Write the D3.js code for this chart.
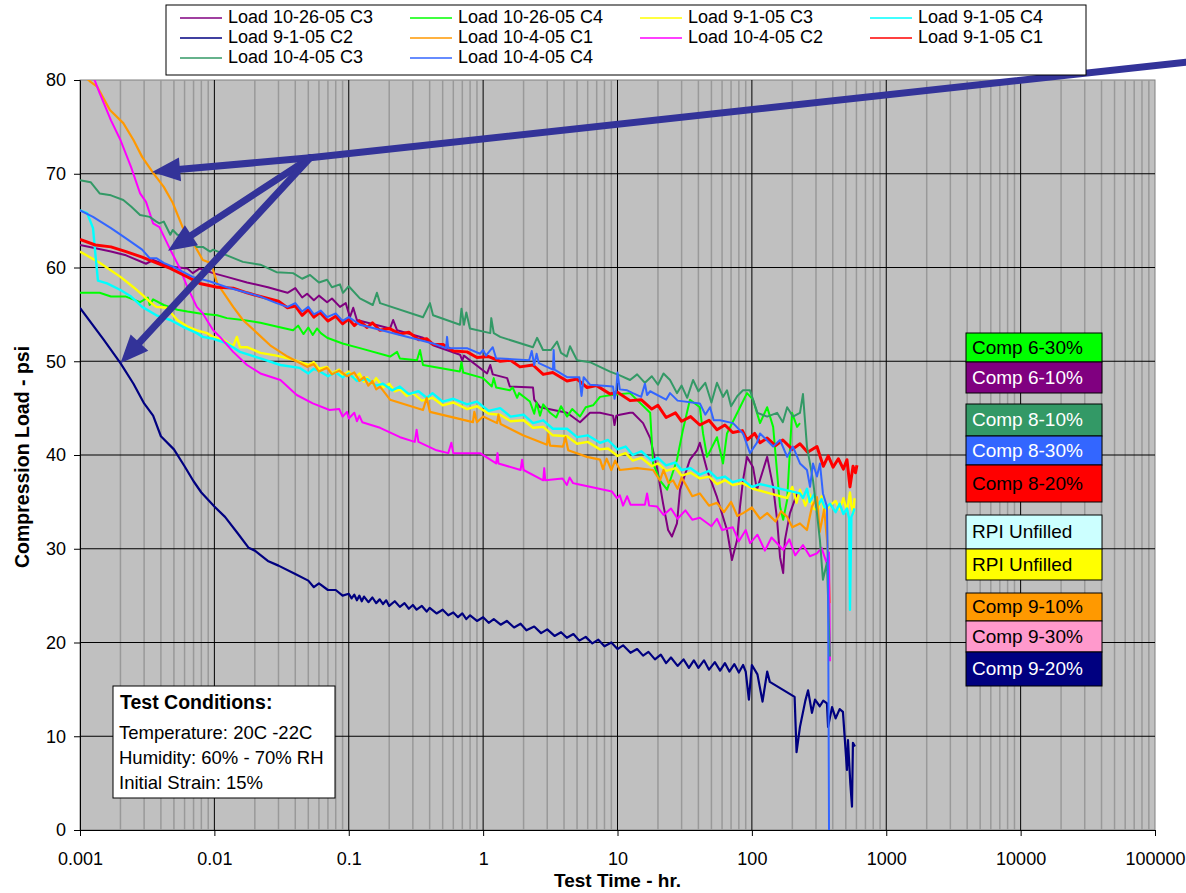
<!DOCTYPE html>
<html lang="en">
<head>
<meta charset="utf-8">
<title>Compression Load vs Test Time</title>
<script src="https://cdn.jsdelivr.net/npm/d3@7"></script>
<style>
  body { margin: 0; background: #fff; }
  svg { display: block; font-family: "Liberation Sans", Arial, sans-serif; }
</style>
</head>
<body>
<div id="chart"></div>
<script>
// each series: [test time (hr), compression load (psi)]
var load102605C3 = [[0.001,62.4],[0.0017,61.7],[0.0022,61.3],[0.0031,60.4],[0.0035,60.8],[0.0047,60.1],[0.0063,59.9],[0.0069,59.4],[0.0078,59.9],[0.0098,59.4],[0.0124,59],[0.0175,58.4],[0.025,57.9],[0.035,57.3],[0.04,57.8],[0.045,56.8],[0.049,57.2],[0.055,56.5],[0.06,57],[0.069,56.3],[0.075,56.7],[0.086,55.8],[0.095,56.2],[0.102,54.7],[0.108,55.7],[0.115,54.4],[0.203,53.5],[0.214,54.4],[0.229,53.3],[0.357,52.5],[0.424,51.7],[0.673,50.7],[0.7,50.1],[0.72,50.6],[1.07,48.7],[1.13,49.6],[1.18,48.6],[1.51,48.2],[1.58,47.3],[2.35,47.2],[2.4,45.9],[2.65,45.1],[4.21,44.5],[5.26,43.5],[6.24,44.5],[7.41,44.5],[9.26,44.2],[9.5,43.2],[9.8,44.2],[10.4,44.3],[12.4,44.5],[13,44.5],[15.5,43.4],[17.5,41.8],[19.7,38.6],[21.8,34.9],[23.8,32],[25.4,31.3],[27.7,32.7],[29.2,36.3],[34.6,39.5],[39.1,40.5],[41,41.3],[46.4,38.4],[55,35.5],[65.3,32],[71.1,28.8],[77.5,30.9],[81.6,34.5],[85.9,37.3],[92,39.8],[102,38.7],[109,36.3],[130,39.8],[144,36.6],[154,33.1],[162,29.1],[171,27.4],[176,30.9],[192,33.8],[217,35.9]];
var load102605C4 = [[0.001,57.3],[0.0014,57.3],[0.0017,56.9],[0.0022,56.9],[0.0028,56.3],[0.0032,56.8],[0.0033,56],[0.0035,56.6],[0.0042,56],[0.0053,55.5],[0.0063,55.3],[0.0078,55.1],[0.0105,54.9],[0.0124,54.6],[0.0163,54.4],[0.022,54.1],[0.029,53.7],[0.0385,53.3],[0.042,53.8],[0.046,52.9],[0.05,53.6],[0.054,52.8],[0.058,53.5],[0.062,53],[0.069,52.5],[0.09,51.9],[0.121,51.4],[0.203,50.5],[0.229,51],[0.24,50.3],[0.322,50.1],[0.339,51.2],[0.357,49.6],[0.67,48.9],[0.69,49.9],[0.71,48.8],[1,48.2],[1.16,47.3],[1.2,48.2],[1.25,47.2],[1.58,46.9],[1.66,47.2],[1.79,46.1],[1.85,46.6],[2.23,45.7],[2.4,44.4],[2.5,45.6],[2.65,44.2],[2.8,45.4],[3.15,44.5],[3.5,44],[3.8,45.2],[4.21,44.1],[4.6,44.9],[5.26,44.1],[5.8,45.1],[6.58,45.3],[7.41,46.2],[9,46.4],[12.4,46.6],[17.5,44.5],[18.4,39.1],[20.7,37.3],[23.4,36.3],[27.7,39.5],[30.7,42.7],[34.6,45.9],[41,45.1],[43.3,42.3],[46.4,39.8],[55,41.9],[61,39.1],[65.3,42.3],[81.6,45.1],[92,46.6],[102,45.9],[115,43.4],[130,45.1],[144,43],[162,34.5],[171,33.1],[183,35.2],[199,44.5],[217,43],[228,43.4]];
var load9105C3 = [[0.001,61.7],[0.0014,60.5],[0.002,59],[0.0025,57.9],[0.0029,57.1],[0.0034,56.2],[0.0037,55.8],[0.0044,55.7],[0.0053,54.4],[0.0063,53.7],[0.0074,53.3],[0.0088,53],[0.0098,52.6],[0.0116,52.3],[0.0138,51.6],[0.0147,52.6],[0.0155,51.5],[0.0175,51.5],[0.022,50.9],[0.029,50.6],[0.038,50.2],[0.05,49.6],[0.055,49.9],[0.06,49.2],[0.069,49.4],[0.075,48.7],[0.085,49.1],[0.09,48.5],[0.1,48.9],[0.11,48.1],[0.12,48.7],[0.13,47.8],[0.137,48.3],[0.15,47.6],[0.16,48.2],[0.18,47.2],[0.2,47.6],[0.22,46.8],[0.24,47],[0.27,46.3],[0.3,46.6],[0.35,45.8],[0.42,46.1],[0.5,45.3],[0.6,45.6],[0.76,44.9],[0.9,45.2],[1.1,44.4],[1.34,44.3],[1.6,43.6],[2,43.7],[2.35,42.9],[2.8,43],[3.3,42.1],[4.21,42],[5,41.2],[6,41.4],[7.4,40.6],[8.5,40.7],[10,39.9],[11.5,40.2],[13,39.4],[15,39.7],[18,38.8],[20,39.1],[23,38.3],[27,38.6],[30,37.8],[35,38.1],[41,37.5],[48,37.7],[55,36.9],[63,37.3],[72,36.8],[85,37],[102,36.4],[183,35.4],[200,36.6],[215,34.9],[228,36.3],[250,34.6],[270,35.8],[285,34.3],[310,34.1],[330,35.6],[345,33.9],[381,34.6],[420,35.1],[450,34.2],[480,35.4],[510,34],[537,36],[550,34.6],[570,33.8],[580,35.4]];
var load9105C4 = [[0.001,66.1],[0.00113,65.8],[0.00125,64.2],[0.0013,61.5],[0.00136,58.6],[0.00159,58.3],[0.002,57.6],[0.0024,56.9],[0.0029,55.8],[0.0037,54.9],[0.0047,54.4],[0.0058,53.7],[0.0074,53],[0.0082,52.6],[0.0098,52.4],[0.0124,51.9],[0.0155,51],[0.022,50.3],[0.031,49.6],[0.043,49.3],[0.05,48.7],[0.055,49.2],[0.061,48.9],[0.07,48.4],[0.08,48.8],[0.09,48.3],[0.1,48.7],[0.115,47.9],[0.137,48.1],[0.16,47.4],[0.18,47.6],[0.21,46.9],[0.24,47.3],[0.28,46.5],[0.33,46.8],[0.38,46.1],[0.42,46.6],[0.5,45.7],[0.6,46],[0.76,45.4],[0.9,45.7],[1.1,44.7],[1.34,45],[1.6,44.1],[2,44.3],[2.35,43.4],[2.8,43.7],[3.3,42.8],[4.21,42.8],[5,41.9],[6,42.1],[7.4,41.3],[8.5,41.6],[10,40.6],[11.5,40.9],[13,40],[15,40.4],[18,39.4],[20,39.7],[23,38.9],[27,39.2],[30,38.4],[35,38.6],[41,37.9],[48,38.3],[55,37.5],[63,37.7],[72,37.1],[85,37.4],[100,36.6],[115,36.9],[228,35.9],[240,35.4],[257,36.4],[270,35],[290,35.8],[310,34.6],[330,35.3],[350,34.3],[381,34.8],[420,33.9],[450,34.8],[480,33.7],[510,34.3],[530,33.2],[537,23.5],[550,33.4],[566,33.8],[580,34.3]];
var load9105C2 = [[0.001,55.7],[0.0015,52.3],[0.002,49.8],[0.0025,47.6],[0.003,45.5],[0.0035,44.2],[0.004,42],[0.005,40.6],[0.006,38.8],[0.007,37.2],[0.008,36],[0.01,34.5],[0.012,33.4],[0.015,31.6],[0.018,30.1],[0.02,29.8],[0.025,28.7],[0.03,28.2],[0.04,27.3],[0.05,26.6],[0.055,25.9],[0.06,26.3],[0.07,25.6],[0.08,25.6],[0.09,25],[0.1,25.2],[0.105,24.7],[0.11,25.1],[0.115,24.5],[0.12,25],[0.125,24.4],[0.13,24.9],[0.14,24.3],[0.15,24.8],[0.16,24.2],[0.17,24.6],[0.18,24.1],[0.19,24.5],[0.2,23.9],[0.22,24.4],[0.24,23.8],[0.26,24.2],[0.28,23.6],[0.3,24],[0.32,23.5],[0.35,23.9],[0.38,23.3],[0.4,23.7],[0.45,23.1],[0.5,23.5],[0.55,22.9],[0.6,23.2],[0.65,22.7],[0.7,23.1],[0.75,22.5],[0.8,22.9],[0.9,22.3],[1,22.7],[1.1,22.1],[1.2,22.5],[1.35,21.9],[1.5,22.3],[1.7,21.6],[1.9,22],[2.1,21.3],[2.4,21.7],[2.7,21],[3,21.4],[3.4,20.7],[3.8,21.1],[4.2,20.5],[4.7,20.9],[5.2,20.2],[5.8,20.6],[6.5,19.9],[7.2,20.3],[8,19.6],[9,20],[10,19.3],[11,19.7],[12.5,18.9],[14,19.3],[15.5,18.6],[17,19],[19,18.2],[21,18.7],[23,17.8],[25,18.4],[28,17.5],[31,18.2],[34,17.3],[37,18.1],[40,17.3],[44,18.1],[48,17.1],[53,17.9],[58,17],[63,17.8],[68,16.9],[74,17.7],[80,16.8],[86,17.6],[90,16.9],[95,13.9],[100,17.6],[110,16.6],[120,13.7],[130,16.9],[136,15.8],[208,14.2],[215,8.3],[228,11],[250,13.8],[262,14.9],[280,12.5],[295,13.9],[320,13.2],[340,13.8],[362,13.5],[369,11],[395,13.1],[420,11.9],[450,12.9],[476,12.6],[510,6.4],[519,9.6],[540,5],[556,2.5],[565,9.3],[585,8.9]];
var load10405C1 = [[0.001,80.8],[0.0012,79.8],[0.00134,79.3],[0.00167,76.8],[0.0021,75.4],[0.0025,73.6],[0.0029,71.8],[0.0035,70.1],[0.0042,68.6],[0.0049,66.9],[0.0058,64.3],[0.0069,62.7],[0.0082,60.8],[0.0093,60.5],[0.0098,59.7],[0.0105,58.3],[0.0138,55.8],[0.0163,54.4],[0.0208,53],[0.026,51.7],[0.035,50.5],[0.049,49.4],[0.055,49.7],[0.06,48.9],[0.069,49.3],[0.075,48.6],[0.085,49],[0.097,48.4],[0.11,48.8],[0.12,47.9],[0.13,48.3],[0.14,47.4],[0.15,47.9],[0.16,47],[0.171,47.3],[0.203,45.9],[0.357,44.8],[0.38,46.1],[0.402,44.6],[0.84,43.5],[0.86,44.6],[0.9,43.5],[1,44.1],[1.27,43.4],[1.3,44.3],[1.35,43.3],[1.98,42.1],[2.99,41.1],[3.05,42.2],[3.15,41],[3.93,40.9],[4.1,41.9],[4.3,40.5],[5.93,39.8],[7.41,39.5],[7.8,38.5],[8.3,39.6],[9,38.4],[9.6,39.4],[10.4,38.4],[14,38.6],[18.4,38.4],[20.7,37.3],[22,38.4],[24,37],[25.9,37.3],[28,36.4],[30,37.6],[32.9,36.6],[36,35.6],[41,35.9],[48,34.6],[55,34.9],[62,33.9],[70,35],[78,33.5],[86,33.8],[100,34.4],[115,33.2],[130,33.8],[150,32.9],[165,34],[183,33.4],[200,32.3],[228,32.7],[257,32],[280,34.5],[305,35.5],[320,31.8],[345,34.2],[365,30.5],[381,24.2]];
var load10405C2 = [[0.0012,81],[0.0013,79.8],[0.0014,78.6],[0.0017,75.7],[0.002,73.6],[0.0024,70.7],[0.0028,67.9],[0.0031,67],[0.0035,64.7],[0.0039,64.3],[0.0047,61.9],[0.0055,60],[0.0063,57.9],[0.0074,55.8],[0.0082,55.1],[0.0098,53.3],[0.011,52.6],[0.0138,51],[0.0175,49.6],[0.022,48.7],[0.031,48],[0.041,46.4],[0.054,45.5],[0.072,44.8],[0.085,44.9],[0.09,44.1],[0.097,44.6],[0.1,43.9],[0.11,44.5],[0.115,43.6],[0.12,44.2],[0.126,43.5],[0.171,42.9],[0.241,41.9],[0.31,41.4],[0.32,42.7],[0.33,41.4],[0.45,40.5],[0.55,40.2],[0.58,41.3],[0.6,40.2],[0.95,40.2],[1.25,39.1],[1.28,40.2],[1.3,39.1],[1.9,38.4],[1.95,39.5],[2,38.4],[2.8,37.3],[2.85,38.6],[2.9,37.3],[3.9,37.5],[4.2,36.8],[4.4,37.6],[4.67,37],[5,36.9],[9.1,36.1],[9.9,35.4],[10.4,35.7],[11,34.6],[11.8,35.6],[12.5,34.7],[16,34.7],[16.6,35.9],[17.2,34.6],[19.7,34.5],[22,33.6],[25,34.3],[28,33.2],[32,34.1],[36,33.1],[41,33.3],[50,32.4],[55,33.2],[60,32],[72,32.3],[80,30.8],[90,32],[97,30.6],[110,31.5],[125,29.8],[140,31.2],[171,29.9],[190,31],[210,29.3],[240,30.4],[270,29.2],[305,29.5],[330,30.1],[360,28.5],[375,29.6],[381,18]];
var load9105C1 = [[0.001,63],[0.0013,62.4],[0.0017,62.2],[0.0022,61.7],[0.0029,61.1],[0.0037,60.5],[0.0047,59.9],[0.0063,59],[0.0078,58.3],[0.0105,57.9],[0.0138,57.8],[0.0175,57.3],[0.022,56.9],[0.03,56.4],[0.035,55.7],[0.04,55.9],[0.045,54.9],[0.05,55.5],[0.055,54.7],[0.061,55.2],[0.07,54.3],[0.08,54.8],[0.09,54],[0.1,54.5],[0.11,53.8],[0.12,54.3],[0.137,53.6],[0.15,54.1],[0.17,53.3],[0.2,53.5],[0.24,52.9],[0.28,53.1],[0.33,52.3],[0.38,52.4],[0.424,51.8],[0.5,51.8],[0.6,51.1],[0.76,51],[0.9,50.4],[1.1,50.5],[1.34,50],[1.6,50.1],[1.88,49.4],[2.35,49.6],[2.8,48.6],[3.3,48.8],[4.21,47.9],[5,48.1],[5.93,47.2],[7,47.4],[8.8,46.5],[10,46.7],[12.4,45.8],[15,45.9],[18,44.9],[20,45.3],[23,44],[27,44.5],[30,43.6],[35,44.1],[41,43.2],[48,43.7],[55,42.7],[63,43.2],[72,42.4],[85,42.6],[92,41.6],[105,42.3],[115,41.3],[130,41.8],[150,41],[170,41.6],[200,40.6],[228,41.2],[260,40.3],[305,40.9],[340,38.8],[370,39.9],[402,38.7],[440,39.6],[480,38.5],[510,39.5],[537,36.6],[566,38.8],[590,38.1],[605,38.9]];
var load10405C3 = [[0.001,69.3],[0.0012,69.1],[0.0014,67.9],[0.0017,67.7],[0.0021,67.2],[0.0024,66.5],[0.0028,65.6],[0.0033,65.4],[0.0037,64.9],[0.0039,64.7],[0.0042,64.9],[0.0047,63.5],[0.0049,64],[0.0053,63.5],[0.0063,63.3],[0.0074,62.2],[0.0082,62.2],[0.0093,61.7],[0.0098,61.9],[0.0124,61.3],[0.0163,60.6],[0.022,60.3],[0.029,59.5],[0.0385,59.4],[0.045,58.8],[0.0515,59.2],[0.06,58.4],[0.069,58.7],[0.075,57.9],[0.086,58.2],[0.0906,57.3],[0.1,58],[0.121,56.7],[0.151,56],[0.162,57.3],[0.171,56.2],[0.357,54.7],[0.402,56.2],[0.424,54.9],[0.673,53.9],[0.69,55.6],[0.72,53.9],[0.75,55.2],[0.798,53.5],[1.13,53],[1.15,54.6],[1.2,53],[1.34,52.6],[2.35,51.5],[2.52,52.5],[2.79,51.2],[3.2,51.2],[3.55,52.1],[3.8,50.9],[4.2,50.5],[4.43,51.6],[5,50.1],[6.24,49.9],[8.8,48.9],[10.4,48.5],[12.4,48],[14,48.6],[16,47.7],[18,48.4],[20,47.5],[22,48.7],[24.6,48],[27.7,46.6],[30,47.4],[33,46.1],[36.5,48],[40,46.8],[45,47.7],[50,45.6],[55,47.7],[61,46.2],[65.3,46.9],[70,45.2],[78,46.3],[85.9,46.9],[96.8,46.9],[110,44.5],[130,44.1],[154,44.5],[170,43.5],[183,45.1],[202,44.1],[228,44.5],[240,46.5],[257,40.9],[285,37.3],[305,33.8],[321,30.9],[338,26.7],[362,28.5],[381,18.5]];
var load10405C4 = [[0.001,66.1],[0.00125,65.4],[0.0017,64.2],[0.0022,63.1],[0.0029,61.9],[0.0033,61],[0.0037,61],[0.0042,60.5],[0.0049,60.1],[0.0069,59],[0.0093,58.5],[0.0124,57.9],[0.0175,57.3],[0.022,56.9],[0.029,56.2],[0.035,55.8],[0.04,56.2],[0.045,55.3],[0.05,55.8],[0.055,55],[0.062,55.4],[0.069,54.7],[0.08,55.1],[0.09,54.3],[0.1,54.7],[0.121,53.9],[0.137,53.7],[0.241,52.8],[0.424,51.9],[0.53,51.4],[0.539,52.6],[0.55,51.4],[0.758,51.4],[0.948,50.8],[1,51.2],[1.05,50.6],[1.18,51.5],[1.25,50.3],[1.34,50.3],[2.2,50.1],[2.3,51.1],[2.4,49.6],[2.5,50.8],[2.6,49.8],[3.31,49.1],[3.35,51.2],[3.4,49.1],[4.21,48.3],[5.2,48.3],[5.4,46.3],[5.6,48.3],[6.24,47.5],[9.26,47.3],[9.5,46],[9.8,47],[10,48.8],[10.4,47],[11.8,46.9],[13,46.6],[15,46.2],[16,47.6],[16.6,46.4],[17.5,46.8],[23,45.9],[24.6,46.6],[28,45.8],[41,45.5],[45,44.3],[48.8,45.1],[52,43.7],[57.9,43.7],[72.4,43.4],[85.9,42.3],[96.8,40.2],[109,41.3],[115,42.3],[144,40.9],[162,41.6],[183,39.8],[202,40.9],[228,39.1],[257,38.4],[271,36.6],[285,39.1],[305,37.7],[321,39.1],[338,35.9],[362,34.5],[369,26.7],[375,0]];

var seriesNames = ["Load 10-26-05 C3", "Load 10-26-05 C4", "Load 9-1-05 C3", "Load 9-1-05 C4",
                   "Load 9-1-05 C2", "Load 10-4-05 C1", "Load 10-4-05 C2", "Load 9-1-05 C1",
                   "Load 10-4-05 C3", "Load 10-4-05 C4"];
var seriesColors = ["#800080", "#00ff00", "#ffff00", "#00ffff", "#000080",
                    "#ff9900", "#ff00ff", "#ff0000", "#339966", "#3366ff"];
var seriesData = [load102605C3, load102605C4, load9105C3, load9105C4, load9105C2,
                  load10405C1, load10405C2, load9105C1, load10405C3, load10405C4];

var yTicks = [0, 10, 20, 30, 40, 50, 60, 70, 80];
var xTicks = [0.001, 0.01, 0.1, 1, 10, 100, 1000, 10000, 100000];
var xTickLabels = ["0.001", "0.01", "0.1", "1", "10", "100", "1000", "10000", "100000"];

// colour key boxes on the right
var compLabels = ["Comp 6-30%", "Comp 6-10%", "Comp 8-10%", "Comp 8-30%", "Comp 8-20%",
                  "RPI Unfilled", "RPI Unfilled", "Comp 9-10%", "Comp 9-30%", "Comp 9-20%"];
var compColors = ["#00ff00", "#800080", "#339966", "#3366ff", "#ff0000",
                  "#ccffff", "#ffff00", "#ff9900", "#ff99cc", "#000080"];
var compTextColors = ["#000", "#fff", "#fff", "#fff", "#000", "#000", "#000", "#000", "#000", "#fff"];

var conditionLines = ["Temperature: 20C -22C", "Humidity: 60% - 70% RH", "Initial Strain: 15%"];

// annotation arrows, in data units
var arrowHub = [0.0515, 71.7];
var arrowFar = [170000, 81.9];
var arrowTips = [[0.00344, 70.2], [0.00452, 61.8], [0.002, 49.8]];

var width = 1186, height = 893;
var plot = {left: 80, right: 1155, top: 80, bottom: 830};
var lineWidths = [2, 2, 2.4, 2.4, 2.2, 2.2, 2, 3, 2, 2];

var svg = d3.select("#chart").append("svg")
    .attr("width", width)
    .attr("height", height);

var x = d3.scaleLog()
    .domain([0.001, 100000])
    .range([plot.left, plot.right]);
var y = d3.scaleLinear()
    .domain([0, 80])
    .range([plot.bottom, plot.top]);

svg.append("defs").append("clipPath")
    .attr("id", "plotclip")
  .append("rect")
    .attr("x", plot.left)
    .attr("y", plot.top)
    .attr("width", plot.right - plot.left)
    .attr("height", plot.bottom - plot.top);

// plot background
svg.append("rect")
    .attr("x", plot.left)
    .attr("y", plot.top)
    .attr("width", plot.right - plot.left)
    .attr("height", plot.bottom - plot.top)
    .attr("fill", "#c0c0c0")
    .attr("stroke", "#808080");

// minor vertical grid
var minorTicks = [];
xTicks.slice(0, -1).forEach(function(d) {
  for (var k = 2; k <= 9; k++) minorTicks.push(d * k);
});
svg.append("g").selectAll("line")
    .data(minorTicks)
    .enter().append("line")
    .attr("x1", function(d) { return x(d); })
    .attr("x2", function(d) { return x(d); })
    .attr("y1", plot.top)
    .attr("y2", plot.bottom)
    .attr("stroke", "#999999")
    .attr("stroke-width", 1.5);

// major grid
svg.append("g").selectAll("line")
    .data(xTicks.slice(1, -1))
    .enter().append("line")
    .attr("x1", function(d) { return x(d); })
    .attr("x2", function(d) { return x(d); })
    .attr("y1", plot.top)
    .attr("y2", plot.bottom)
    .attr("stroke", "#000")
    .attr("stroke-width", 1);
svg.append("g").selectAll("line")
    .data(yTicks.slice(1, -1))
    .enter().append("line")
    .attr("x1", plot.left)
    .attr("x2", plot.right)
    .attr("y1", function(d) { return y(d); })
    .attr("y2", function(d) { return y(d); })
    .attr("stroke", "#000")
    .attr("stroke-width", 1);

// axes
var yAxis = d3.axisLeft(y).tickValues(yTicks).tickSize(6).tickPadding(8);
var xAxis = d3.axisBottom(x).tickValues(xTicks).tickSize(6).tickPadding(16)
    .tickFormat(function(d, i) { return xTickLabels[i]; });

svg.append("g")
    .attr("transform", "translate(" + plot.left + ",0)")
    .call(yAxis)
    .call(function(g) {
      g.selectAll("text").attr("font-size", 18).attr("font-family", "Liberation Sans, Arial, sans-serif").attr("fill", "#000");
      g.select(".domain").attr("stroke", "#000");
    });
svg.append("g")
    .attr("transform", "translate(0," + plot.bottom + ")")
    .call(xAxis)
    .call(function(g) {
      g.selectAll("text").attr("font-size", 18).attr("font-family", "Liberation Sans, Arial, sans-serif").attr("fill", "#000");
      g.select(".domain").attr("stroke", "#000");
    });

svg.append("text")
    .attr("transform", "translate(24," + ((plot.top + plot.bottom) / 2 + 2) + ") rotate(-90)")
    .attr("text-anchor", "middle")
    .attr("dominant-baseline", "middle")
    .attr("font-size", 19.5)
    .attr("font-weight", "bold")
    .text("Compression Load - psi");
svg.append("text")
    .attr("x", (plot.left + plot.right) / 2)
    .attr("y", 887)
    .attr("text-anchor", "middle")
    .attr("font-size", 19)
    .attr("font-weight", "bold")
    .text("Test Time - hr.");

// series
var line = d3.line()
    .x(function(d) { return x(d[0]); })
    .y(function(d) { return y(d[1]); });

svg.append("g")
    .attr("clip-path", "url(#plotclip)")
  .selectAll("path")
    .data(seriesData)
    .enter().append("path")
    .attr("d", line)
    .attr("fill", "none")
    .attr("stroke", function(d, i) { return seriesColors[i]; })
    .attr("stroke-width", function(d, i) { return lineWidths[i]; })
    .attr("stroke-linejoin", "round");

// arrows
var arrowColor = "#333399";
var hub = [x(arrowHub[0]), y(arrowHub[1])];
svg.append("line")
    .attr("x1", x(arrowFar[0])).attr("y1", y(arrowFar[1]))
    .attr("x2", hub[0]).attr("y2", hub[1])
    .attr("stroke", arrowColor)
    .attr("stroke-width", 7)
    .attr("stroke-linecap", "round");
arrowTips.forEach(function(t) {
  var tx = x(t[0]), ty = y(t[1]);
  var dx = tx - hub[0], dy = ty - hub[1];
  var len = Math.sqrt(dx * dx + dy * dy);
  var ux = dx / len, uy = dy / len;
  var headLen = 28, headW = 12;
  var bx = tx - ux * headLen, by = ty - uy * headLen;
  svg.append("line")
      .attr("x1", hub[0]).attr("y1", hub[1])
      .attr("x2", bx + ux * 2).attr("y2", by + uy * 2)
      .attr("stroke", arrowColor)
      .attr("stroke-width", 7)
      .attr("stroke-linecap", "round");
  svg.append("polygon")
      .attr("points", [[tx, ty], [bx - uy * headW, by + ux * headW], [bx + uy * headW, by - ux * headW]].join(" "))
      .attr("fill", arrowColor);
});

// series legend
var legend = svg.append("g");
legend.append("rect")
    .attr("x", 166).attr("y", 5)
    .attr("width", 920).attr("height", 70)
    .attr("fill", "#fff")
    .attr("stroke", "#000");
seriesNames.forEach(function(name, i) {
  var col = i % 4, row = Math.floor(i / 4);
  var lx = 180 + col * 230, ly = 18 + row * 20;
  legend.append("line")
      .attr("x1", lx).attr("x2", lx + 42)
      .attr("y1", ly).attr("y2", ly)
      .attr("stroke", seriesColors[i])
      .attr("stroke-width", 1.6);
  legend.append("text")
      .attr("x", lx + 48).attr("y", ly)
      .attr("dominant-baseline", "middle")
      .attr("font-size", 18)
      .text(name);
});

// colour key boxes
var compTops = [333, 362, 404, 436, 465, 515, 549, 593, 621, 652];
var compBottoms = [362, 393, 436, 465, 502, 549, 580, 621, 652, 686];
var comp = svg.append("g");
compLabels.forEach(function(label, i) {
  comp.append("rect")
      .attr("x", 966).attr("y", compTops[i])
      .attr("width", 136).attr("height", compBottoms[i] - compTops[i])
      .attr("fill", compColors[i])
      .attr("stroke", "#000");
  comp.append("text")
      .attr("x", 972)
      .attr("y", (compTops[i] + compBottoms[i]) / 2 + 1)
      .attr("dominant-baseline", "middle")
      .attr("font-size", 19)
      .attr("fill", compTextColors[i])
      .text(label);
});

// test conditions box
var cond = svg.append("g");
cond.append("rect")
    .attr("x", 113).attr("y", 686)
    .attr("width", 222).attr("height", 112)
    .attr("fill", "#fff")
    .attr("stroke", "#000");
cond.append("text")
    .attr("x", 120).attr("y", 709)
    .attr("font-size", 19.5)
    .attr("font-weight", "bold")
    .text("Test Conditions:");
conditionLines.forEach(function(t, i) {
  cond.append("text")
      .attr("x", 119).attr("y", 739 + i * 25)
      .attr("font-size", 18.5)
      .text(t);
});
</script>
</body>
</html>
